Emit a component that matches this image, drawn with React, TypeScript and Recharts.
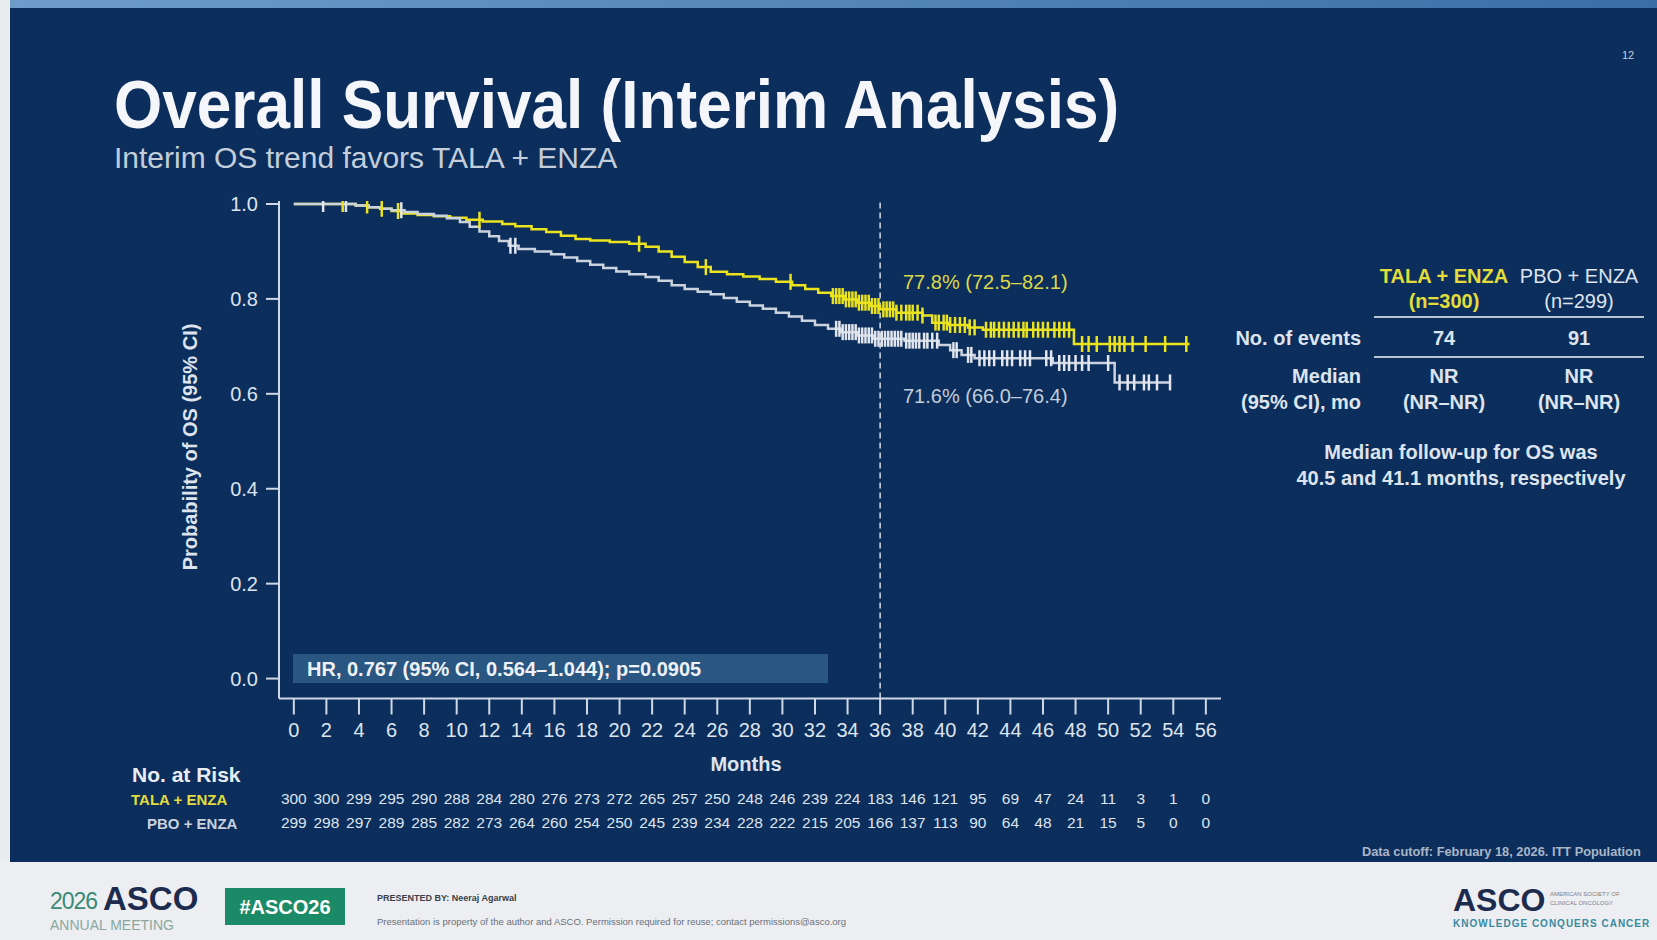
import React from 'react';
import { ComposedChart, Line, Scatter, XAxis, YAxis, ReferenceLine } from 'recharts';

// months shown on the x axis and the number-at-risk table
const months = [0, 2, 4, 6, 8, 10, 12, 14, 16, 18, 20, 22, 24, 26, 28, 30, 32, 34, 36, 38, 40, 42, 44, 46, 48, 50, 52, 54, 56];
const talaAtRisk = [300, 300, 299, 295, 290, 288, 284, 280, 276, 273, 272, 265, 257, 250, 248, 246, 239, 224, 183, 146, 121, 95, 69, 47, 24, 11, 3, 1, 0];
const pboAtRisk = [299, 298, 297, 289, 285, 282, 273, 264, 260, 254, 250, 245, 239, 234, 228, 222, 215, 205, 166, 137, 113, 90, 64, 48, 21, 15, 5, 0, 0];

const yTicks = [0, 0.2, 0.4, 0.6, 0.8, 1.0];

// Kaplan-Meier steps (time in months, survival probability)
const talaTimes = [0, 3.8, 4.6, 5.3, 6.0, 6.6, 7.6, 8.6, 9.6, 10.6, 11.6, 12.8, 13.6, 14.6, 15.5, 16.4, 17.3, 18.2, 19.4, 20.6, 21.6, 22.4, 23.2, 24.0, 24.8, 25.6, 26.6, 27.6, 28.6, 29.6, 30.6, 31.4, 32.2, 33.0, 33.8, 34.6, 35.4, 36.0, 37.0, 38.6, 39.2, 40.2, 41.4, 42.3, 47.9, 55.0];
const talaSurv = [1.0, 0.997, 0.993, 0.99, 0.985, 0.98, 0.977, 0.974, 0.971, 0.967, 0.963, 0.958, 0.953, 0.947, 0.941, 0.933, 0.926, 0.923, 0.92, 0.916, 0.91, 0.9, 0.889, 0.878, 0.867, 0.857, 0.852, 0.847, 0.842, 0.836, 0.829, 0.821, 0.813, 0.806, 0.799, 0.792, 0.785, 0.778, 0.771, 0.765, 0.75, 0.745, 0.74, 0.735, 0.705, 0.705];

const pboTimes = [0, 3.8, 4.6, 5.3, 6.0, 6.8, 7.6, 8.6, 9.4, 10.2, 10.8, 11.4, 12.0, 12.6, 13.2, 13.8, 14.8, 15.8, 16.6, 17.4, 18.2, 19.0, 19.8, 20.6, 21.6, 22.4, 23.2, 24.0, 24.8, 25.6, 26.4, 27.2, 28.0, 28.8, 29.6, 30.4, 31.2, 32.0, 32.8, 33.6, 34.6, 35.6, 37.5, 39.6, 40.3, 41.0, 41.8, 46.6, 50.4, 53.8];
const pboSurv = [1.0, 0.997, 0.993, 0.99, 0.987, 0.983, 0.979, 0.975, 0.97, 0.962, 0.952, 0.942, 0.932, 0.922, 0.912, 0.905, 0.9, 0.894, 0.887, 0.88, 0.872, 0.865, 0.858, 0.852, 0.846, 0.838, 0.829, 0.821, 0.815, 0.81, 0.802, 0.794, 0.786, 0.779, 0.771, 0.763, 0.754, 0.745, 0.737, 0.73, 0.723, 0.716, 0.712, 0.703, 0.692, 0.682, 0.675, 0.665, 0.624, 0.624];

// censoring times
const talaCensor = [3.0, 4.5, 5.4, 6.4, 11.4, 21.2, 25.3, 30.5,
  33.1, 33.3, 33.5, 33.7, 33.9, 34.1, 34.3, 34.5, 34.7, 34.9, 35.1, 35.3, 35.5, 35.7, 35.9, 36.2, 36.4, 36.6, 36.8, 37.0, 37.3, 37.6, 37.8, 38.0, 38.3, 38.6,
  39.4, 39.6, 39.9, 40.1, 40.3, 40.6, 40.9, 41.2, 41.5, 41.8,
  42.5, 42.8, 43.0, 43.3, 43.6, 43.9, 44.2, 44.5, 44.8, 45.0, 45.4, 45.7, 46.0, 46.3, 46.7, 47.0, 47.3, 47.6,
  48.4, 48.8, 49.3, 50.1, 50.4, 50.7, 51.0, 51.5, 52.3, 53.5, 54.8];
const pboCensor = [1.8, 3.2, 6.6, 13.3, 13.6,
  33.3, 33.5, 33.7, 33.9, 34.1, 34.3, 34.5, 34.7, 34.9, 35.1, 35.3, 35.5, 35.7, 35.9, 36.1, 36.3, 36.5, 36.7, 36.9, 37.1, 37.3, 37.6, 37.8, 38.0, 38.2, 38.4, 38.7, 38.9, 39.2, 39.5,
  40.5, 40.7, 41.4, 41.6,
  42.1, 42.4, 42.7, 43.0, 43.5, 43.8, 44.1, 44.6, 44.9, 45.2, 46.2, 46.5, 47.0, 47.3, 47.6, 48.0, 48.4, 48.8, 50.0,
  50.7, 51.2, 51.6, 52.2, 52.5, 53.0, 53.8];

const YELLOW = '#ebe31e';
const GREY = '#cbd3df';
const TEXT = '#dde4ee';
const FONT = "'Liberation Sans', Arial, sans-serif";

const stepAt = (times: number[], surv: number[], t: number) => {
  let v = surv[0];
  for (let i = 0; i < times.length; i++) if (times[i] <= t) v = surv[i];
  return v;
};
const toPoints = (times: number[], surv: number[]) => times.map((t, i) => ({ t, s: surv[i] }));
const toCensor = (cens: number[], times: number[], surv: number[]) => cens.map((t) => ({ t, s: stepAt(times, surv, t) }));

const talaLine = toPoints(talaTimes, talaSurv);
const pboLine = toPoints(pboTimes, pboSurv);
const talaMarks = toCensor(talaCensor, talaTimes, talaSurv);
const pboMarks = toCensor(pboCensor, pboTimes, pboSurv);

const censorShape = (color: string) => (props: any) => {
  const { cx, cy } = props;
  if (cx == null || cy == null) return <g />;
  return <line x1={cx} x2={cx} y1={cy - 8} y2={cy + 8} stroke={color} strokeWidth={2.5} />;
};

const RiskTick = (props: any) => {
  const { x, y, payload } = props;
  const i = months.indexOf(payload.value);
  return (
    <g fontFamily={FONT} fontSize={15.5} fill={TEXT} textAnchor="middle">
      <text x={x} y={y + 25} dominantBaseline="central">{talaAtRisk[i]}</text>
      <text x={x} y={y + 49} dominantBaseline="central">{pboAtRisk[i]}</text>
    </g>
  );
};

type TxtProps = {
  x: number; y: number; size: number; children: React.ReactNode;
  weight?: number; color?: string; anchor?: 'start' | 'middle' | 'end'; style?: React.CSSProperties;
};
const Txt = ({ x, y, size, children, weight = 400, color = TEXT, anchor = 'start', style }: TxtProps) => (
  <div
    style={{
      position: 'absolute', left: x, top: y - size / 2, fontSize: size, lineHeight: 1, fontWeight: weight,
      color, whiteSpace: 'nowrap', fontFamily: FONT,
      transform: anchor === 'middle' ? 'translateX(-50%)' : anchor === 'end' ? 'translateX(-100%)' : undefined,
      ...style,
    }}
  >
    {children}
  </div>
);

export default function App() {
  return (
    <div style={{ position: 'absolute', left: 0, top: 0, width: 1657, height: 940, overflow: 'hidden', background: '#e9edf0', fontFamily: FONT }}>
      {/* slide panel */}
      <div style={{ position: 'absolute', left: 10, top: 0, width: 1647, height: 8, background: 'linear-gradient(90deg, #6d9ccb, #3c6ea6)' }} />
      <div style={{ position: 'absolute', left: 10, top: 8, width: 1647, height: 854, background: '#0c2e5c' }} />
      <div style={{ position: 'absolute', left: 0, top: 862, width: 1657, height: 78, background: '#eceef1' }} />

      <div style={{ position: 'absolute', left: 0, top: 0 }}>
        <ComposedChart width={1657} height={940} margin={{ top: 201, right: 436, bottom: 91.5, left: 219 }}>
          <XAxis
            xAxisId="main" dataKey="t" type="number" domain={[-0.91, 56.93]} allowDataOverflow
            ticks={months} interval={0} tickSize={16} tickMargin={8} height={75}
            stroke="#cfd8e5" strokeWidth={2}
            tick={{ fill: TEXT, fontSize: 20, fontFamily: FONT }}
          />
          <XAxis
            xAxisId="risk" dataKey="t" type="number" domain={[-0.91, 56.93]} allowDataOverflow
            ticks={months} interval={0} tickSize={0} tickMargin={0} height={75}
            axisLine={false} tickLine={false} tick={<RiskTick />}
          />
          <YAxis
            dataKey="s" type="number" domain={[-0.042, 1.0063]} allowDataOverflow
            ticks={yTicks} interval={0} width={60} tickSize={13} tickMargin={8}
            tickFormatter={(v: number) => v.toFixed(1)}
            stroke="#cfd8e5" strokeWidth={2}
            tick={{ fill: TEXT, fontSize: 20, fontFamily: FONT }}
          />
          <ReferenceLine xAxisId="main" x={36} stroke="#d3dce8" strokeWidth={1.5} strokeDasharray="6 4" />
          <Line xAxisId="main" data={talaLine} dataKey="s" type="stepAfter" stroke={YELLOW} strokeWidth={2.5} dot={false} activeDot={false} isAnimationActive={false} />
          <Scatter xAxisId="main" data={talaMarks} dataKey="s" shape={censorShape(YELLOW)} isAnimationActive={false} />
          <Line xAxisId="main" data={pboLine} dataKey="s" type="stepAfter" stroke={GREY} strokeWidth={2.5} dot={false} activeDot={false} isAnimationActive={false} />
          <Scatter xAxisId="main" data={pboMarks} dataKey="s" shape={censorShape('#e1e6ee')} isAnimationActive={false} />
        </ComposedChart>
      </div>

      {/* titles */}
      <Txt x={114} y={104} size={68} weight={700} color="#f4f6f9" style={{ transform: 'scaleX(0.913)', transformOrigin: 'left center' }}>
        Overall Survival (Interim Analysis)
      </Txt>
      <Txt x={114} y={158} size={30} color="#c4cedb">Interim OS trend favors TALA + ENZA</Txt>
      <Txt x={1622} y={55} size={11} color="#c6d0dc">12</Txt>

      {/* axis titles */}
      <Txt x={190} y={447} size={20} weight={700} anchor="middle" style={{ transform: 'translateX(-50%) rotate(-90deg)' }}>
        Probability of OS (95% CI)
      </Txt>
      <Txt x={746} y={764} size={20} weight={700} anchor="middle">Months</Txt>

      {/* curve annotations */}
      <Txt x={903} y={282} size={20} color="#dcd84a">77.8% (72.5–82.1)</Txt>
      <Txt x={903} y={396} size={20} color="#c3ccd9">71.6% (66.0–76.4)</Txt>

      {/* HR box */}
      <div style={{ position: 'absolute', left: 293, top: 654, width: 535, height: 29, background: '#2a5682' }} />
      <Txt x={307} y={669} size={20} weight={700} color="#eef2f7">HR, 0.767 (95% CI, 0.564–1.044); p=0.0905</Txt>

      {/* number at risk labels */}
      <Txt x={132} y={774} size={21} weight={700} color="#e8edf3">No. at Risk</Txt>
      <Txt x={131} y={799} size={15} weight={700} color="#e3dc3a">TALA + ENZA</Txt>
      <Txt x={147} y={823} size={15} weight={700} color="#c9d2de">PBO + ENZA</Txt>

      {/* summary table */}
      <Txt x={1444} y={276} size={20} weight={700} color="#e3dc3a" anchor="middle">TALA + ENZA</Txt>
      <Txt x={1579} y={276} size={20} color={TEXT} anchor="middle">PBO + ENZA</Txt>
      <Txt x={1444} y={301} size={20} weight={700} color="#e3dc3a" anchor="middle">(n=300)</Txt>
      <Txt x={1579} y={301} size={20} color={TEXT} anchor="middle">(n=299)</Txt>
      <div style={{ position: 'absolute', left: 1374, top: 316, width: 270, height: 2, background: '#b9c4d3' }} />
      <Txt x={1361} y={338} size={20} weight={700} anchor="end">No. of events</Txt>
      <Txt x={1444} y={338} size={20} weight={700} anchor="middle">74</Txt>
      <Txt x={1579} y={338} size={20} weight={700} anchor="middle">91</Txt>
      <div style={{ position: 'absolute', left: 1374, top: 356, width: 270, height: 2, background: '#b9c4d3' }} />
      <Txt x={1361} y={376} size={20} weight={700} anchor="end">Median</Txt>
      <Txt x={1361} y={402} size={20} weight={700} anchor="end">(95% CI), mo</Txt>
      <Txt x={1444} y={376} size={20} weight={700} anchor="middle">NR</Txt>
      <Txt x={1444} y={402} size={20} weight={700} anchor="middle">(NR–NR)</Txt>
      <Txt x={1579} y={376} size={20} weight={700} anchor="middle">NR</Txt>
      <Txt x={1579} y={402} size={20} weight={700} anchor="middle">(NR–NR)</Txt>
      <Txt x={1461} y={452} size={20} weight={700} anchor="middle">Median follow-up for OS was</Txt>
      <Txt x={1461} y={478} size={20} weight={700} anchor="middle">40.5 and 41.1 months, respectively</Txt>

      <Txt x={1362} y={852} size={12.8} weight={700} color="#a9b6c8">Data cutoff: February 18, 2026. ITT Population</Txt>

      {/* footer */}
      <Txt x={50} y={901} size={23} color="#3a8a77" style={{ letterSpacing: -1 }}>2026</Txt>
      <Txt x={103} y={898} size={33} weight={700} color="#1d2b4f">ASCO</Txt>
      <Txt x={50} y={925} size={14} color="#8aa89e">ANNUAL MEETING</Txt>
      <div style={{ position: 'absolute', left: 225, top: 888, width: 120, height: 37, background: '#1b8a67' }} />
      <Txt x={285} y={907} size={20} weight={700} color="#ffffff" anchor="middle">#ASCO26</Txt>
      <Txt x={377} y={898} size={9} weight={700} color="#3a3f4a">PRESENTED BY: Neeraj Agarwal</Txt>
      <Txt x={377} y={922} size={9.5} color="#6b707a">Presentation is property of the author and ASCO. Permission required for reuse; contact permissions@asco.org</Txt>
      <Txt x={1453} y={900} size={32} weight={700} color="#1d2b4f">ASCO</Txt>
      <Txt x={1550} y={894} size={6} color="#7a808a">AMERICAN SOCIETY OF</Txt>
      <Txt x={1550} y={903} size={6} color="#7a808a">CLINICAL ONCOLOGY</Txt>
      <Txt x={1453} y={924} size={10} weight={700} color="#3a8aa0" style={{ letterSpacing: 1 }}>KNOWLEDGE CONQUERS CANCER</Txt>
    </div>
  );
}
